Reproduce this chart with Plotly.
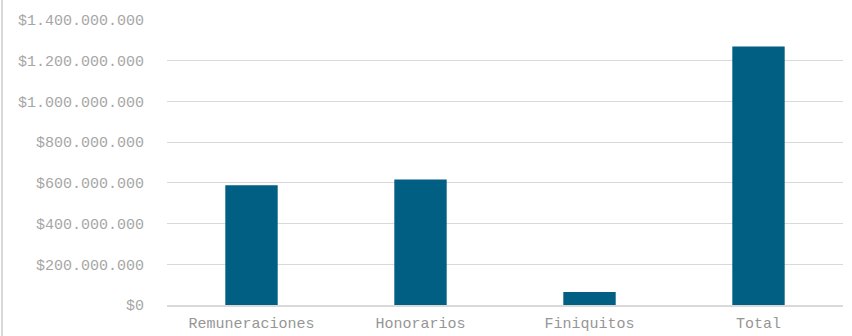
import plotly.graph_objects as go

categories = ["Remuneraciones", "Honorarios", "Finiquitos", "Total"]
values = [588_000_000, 616_000_000, 64_000_000, 1_270_000_000]
tick_vals = [0, 200_000_000, 400_000_000, 600_000_000, 800_000_000, 1_000_000_000, 1_200_000_000, 1_400_000_000]
tick_text = ["$0", "$200.000.000", "$400.000.000", "$600.000.000", "$800.000.000",
             "$1.000.000.000", "$1.200.000.000", "$1.400.000.000"]

W, H = 852, 336
L, R, T, B = 167, 9, 20, 31

fig = go.Figure(go.Bar(x=categories, y=values, marker=dict(color="#005F83", line=dict(width=0))))

fig.update_layout(
    width=W, height=H,
    margin=dict(l=L, r=R, t=T, b=B, autoexpand=False),
    plot_bgcolor="white", paper_bgcolor="white",
    bargap=0.69,
    showlegend=False,
    font=dict(family="Liberation Mono, Courier New, monospace", size=15, color="#a6a6a6"),
)
fig.update_xaxes(showgrid=False, showline=True, linecolor="#d9d9d9", linewidth=2,
                 ticks="", automargin=False, ticklabelstandoff=3,
                 tickfont=dict(size=15, color="#969696"))
fig.update_yaxes(range=[0, 1_400_000_000], tickvals=tick_vals, ticktext=tick_text,
                 showgrid=True, gridcolor="#d9d9d9", gridwidth=1, zeroline=False,
                 ticks="", ticklen=0, automargin=False, ticklabelstandoff=22,
                 tickfont=dict(size=15, color="#a6a6a6"))

plot_w = W - L - R
fig.add_shape(type="line", xref="paper", yref="paper",
              x0=(2 - L) / plot_w, x1=(2 - L) / plot_w,
              y0=-B / (H - T - B), y1=1 + T / (H - T - B),
              line=dict(color="#d9d9d9", width=2))

fig.write_html("out.html", config={"displayModeBar": False},
               post_script="document.body.style.margin='0';document.body.style.overflow='hidden';")
